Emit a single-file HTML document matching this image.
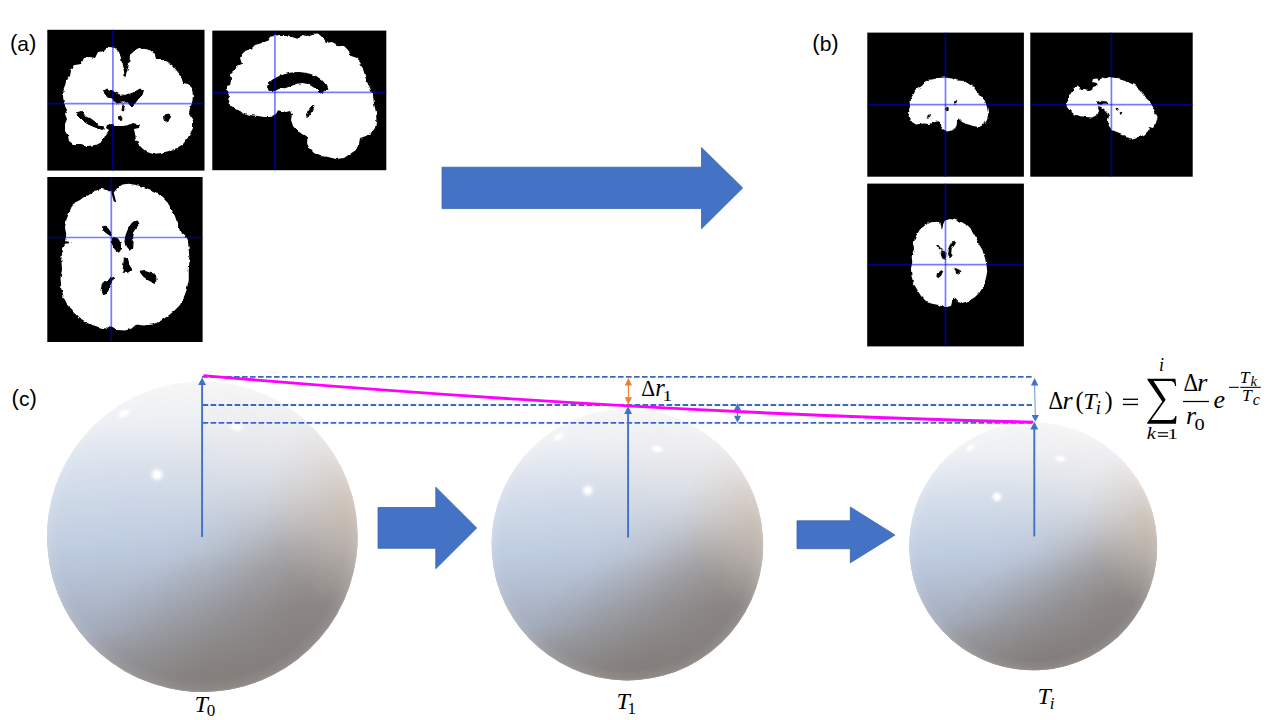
<!DOCTYPE html>
<html>
<head>
<meta charset="utf-8">
<title>Figure</title>
<style>
html,body{margin:0;padding:0;background:#fff;}
body{width:1280px;height:720px;overflow:hidden;position:relative;font-family:"Liberation Sans",sans-serif;}
svg{position:absolute;left:0;top:0;}
.lab{font-family:"Liberation Sans",sans-serif;font-size:21px;fill:#000;}
.m{font-family:"Liberation Serif",serif;fill:#000;}
.mi{font-family:"Liberation Serif",serif;font-style:italic;fill:#000;}
</style>
</head>
<body>
<svg width="1280" height="720" viewBox="0 0 1280 720">
<defs>
  <filter id="rough" x="-5%" y="-5%" width="110%" height="110%">
    <feTurbulence type="fractalNoise" baseFrequency="0.04" numOctaves="2" seed="3" result="n"/>
    <feDisplacementMap in="SourceGraphic" in2="n" scale="16" xChannelSelector="R" yChannelSelector="G" result="d"/>
    <feGaussianBlur in="d" stdDeviation="2.2"/>
  </filter>
  <filter id="rough4" x="-5%" y="-5%" width="110%" height="110%">
    <feTurbulence type="fractalNoise" baseFrequency="0.05" numOctaves="2" seed="5" result="n"/>
    <feDisplacementMap in="SourceGraphic" in2="n" scale="13" xChannelSelector="R" yChannelSelector="G" result="d"/>
    <feGaussianBlur in="d" stdDeviation="1.8"/>
  </filter>
  <!-- sphere gradients -->
  <linearGradient id="gN" x1="0" y1="0" x2="0" y2="1">
    <stop offset="0" stop-color="#f6f6f6"/><stop offset="0.12" stop-color="#f0f0f2"/><stop offset="0.25" stop-color="#e5e6ea"/><stop offset="0.38" stop-color="#d4d8e0"/><stop offset="0.5" stop-color="#bec4d0"/><stop offset="0.62" stop-color="#a5a6ad"/><stop offset="0.75" stop-color="#908c8c"/><stop offset="0.88" stop-color="#85817e"/><stop offset="1" stop-color="#7f7b78"/>
  </linearGradient>
  <linearGradient id="gB" x1="0" y1="0" x2="0" y2="1">
    <stop offset="0" stop-color="#f4f5f8"/><stop offset="0.1" stop-color="#ebeff5"/><stop offset="0.2" stop-color="#dde5ef"/><stop offset="0.3" stop-color="#d2dcea"/><stop offset="0.5" stop-color="#bfcde0"/><stop offset="0.65" stop-color="#b1bccf"/><stop offset="0.78" stop-color="#a5adbd"/><stop offset="0.9" stop-color="#96989f"/><stop offset="1" stop-color="#8a8786"/>
  </linearGradient>
  <linearGradient id="gW" x1="0" y1="0" x2="0" y2="1">
    <stop offset="0" stop-color="#f5f3f1"/><stop offset="0.1" stop-color="#efe9e3"/><stop offset="0.2" stop-color="#e6dcd2"/><stop offset="0.3" stop-color="#dbcfc4"/><stop offset="0.5" stop-color="#c4b7aa"/><stop offset="0.75" stop-color="#b0a69e"/><stop offset="0.9" stop-color="#9a938e"/><stop offset="1" stop-color="#88837f"/>
  </linearGradient>
  <linearGradient id="gD" x1="0" y1="0" x2="0" y2="1">
    <stop offset="0" stop-color="#f5f4f3"/><stop offset="0.12" stop-color="#efebe7"/><stop offset="0.25" stop-color="#e0dad4"/><stop offset="0.4" stop-color="#cbc4be"/><stop offset="0.5" stop-color="#afa7a1"/><stop offset="0.56" stop-color="#a09a96"/><stop offset="0.64" stop-color="#96908c"/><stop offset="0.75" stop-color="#8a8482"/><stop offset="1" stop-color="#7e7a78"/>
  </linearGradient>
  <radialGradient id="aL" gradientUnits="userSpaceOnUse" cx="-80" cy="8" r="150">
    <stop offset="0" stop-color="#fff"/><stop offset="0.35" stop-color="#f0f0f0"/><stop offset="0.55" stop-color="#b4b4b4"/><stop offset="0.75" stop-color="#555"/><stop offset="0.9" stop-color="#1a1a1a"/><stop offset="1" stop-color="#000"/>
  </radialGradient>
  <radialGradient id="aW" gradientUnits="userSpaceOnUse" cx="118" cy="-12" r="75">
    <stop offset="0" stop-color="#fff"/><stop offset="0.3" stop-color="#e0e0e0"/><stop offset="0.6" stop-color="#777"/><stop offset="1" stop-color="#000"/>
  </radialGradient>
  <radialGradient id="aD" gradientUnits="userSpaceOnUse" cx="50" cy="52" r="88">
    <stop offset="0" stop-color="#d8d8d8"/><stop offset="0.35" stop-color="#b8b8b8"/><stop offset="0.65" stop-color="#606060"/><stop offset="1" stop-color="#000"/>
  </radialGradient>
  <mask id="mL" maskUnits="userSpaceOnUse" x="-100" y="-100" width="200" height="200"><rect x="-100" y="-100" width="200" height="200" fill="url(#aL)"/></mask>
  <mask id="mW" maskUnits="userSpaceOnUse" x="-100" y="-100" width="200" height="200"><rect x="-100" y="-100" width="200" height="200" fill="url(#aW)"/></mask>
  <mask id="mD" maskUnits="userSpaceOnUse" x="-100" y="-100" width="200" height="200"><rect x="-100" y="-100" width="200" height="200" fill="url(#aD)"/></mask>
  <radialGradient id="sRim" cx="0.5" cy="0.5" r="0.5">
    <stop offset="0" stop-color="#fff" stop-opacity="0"/>
    <stop offset="0.92" stop-color="#fff" stop-opacity="0"/>
    <stop offset="0.985" stop-color="#fff" stop-opacity="0.08"/>
    <stop offset="1" stop-color="#fff" stop-opacity="0.16"/>
  </radialGradient>
  <g id="shade">
    <circle cx="0" cy="0" r="100" fill="url(#gN)"/>
    <circle cx="0" cy="0" r="100" fill="url(#gD)" mask="url(#mD)"/>
    <circle cx="0" cy="0" r="100" fill="url(#gB)" mask="url(#mL)"/>
    <circle cx="0" cy="0" r="100" fill="url(#gW)" mask="url(#mW)"/>
  </g>
  <radialGradient id="gHL" cx="0.5" cy="0.5" r="0.5">
    <stop offset="0" stop-color="#fff" stop-opacity="1"/>
    <stop offset="0.32" stop-color="#fff" stop-opacity="0.98"/>
    <stop offset="0.55" stop-color="#fff" stop-opacity="0.5"/>
    <stop offset="0.8" stop-color="#fff" stop-opacity="0.14"/>
    <stop offset="1" stop-color="#fff" stop-opacity="0"/>
  </radialGradient>
  <radialGradient id="gBot" cx="0.56" cy="1.02" r="0.48">
    <stop offset="0" stop-color="#837d79" stop-opacity="0.8"/>
    <stop offset="0.45" stop-color="#88827e" stop-opacity="0.4"/>
    <stop offset="1" stop-color="#8a8684" stop-opacity="0"/>
  </radialGradient>
  <g id="hls">
    <circle cx="0" cy="0" r="100" fill="url(#gBot)"/>
    <circle cx="0" cy="0" r="100" fill="url(#sRim)"/>
    <circle cx="-29.2" cy="-39.9" r="5.8" fill="url(#gHL)"/>
    <ellipse cx="-50.5" cy="-79.3" rx="6.4" ry="3.6" fill="url(#gHL)" transform="rotate(-30 -50.5 -79.3)"/>
    <ellipse cx="22" cy="-70.5" rx="6.4" ry="4" fill="url(#gHL)" transform="rotate(8 22 -70.5)"/>
  </g>
</defs>

<!-- ===== panel (a) ===== -->
<g id="a1">
  <rect x="47.3" y="29.8" width="157.2" height="140.8" fill="#000"/>
  <g transform="translate(45,28) scale(0.2)" filter="url(#rough)">
    <path fill="#fff" d="M325,95 L350,100 L370,120 L380,150 L385,190 L395,220 L400,250 L410,215 L420,180 L425,140 L440,115 L470,100 L500,105 L530,115 L550,130 L555,155 L585,155 L615,170 L640,190 L660,215 L680,240 L690,275 L715,280 L735,300 L740,340 L735,375 L725,400 L720,430 L740,465 L740,500 L725,530 L710,555 L690,580 L660,600 L620,615 L580,625 L540,630 L510,620 L490,605 L470,585 L455,560 L450,530 L445,505 L470,500 L475,485 L440,475 L420,485 L390,490 L360,490 L335,480 L310,485 L305,500 L320,510 L300,540 L285,570 L255,585 L215,590 L180,580 L140,580 L120,565 L115,540 L100,515 L100,480 L110,455 L100,430 L110,410 L95,380 L90,340 L95,300 L110,260 L125,240 L130,215 L150,185 L180,180 L195,150 L225,145 L250,150 L265,120 L295,115 L310,100 Z"/>
    <path fill="#000" stroke="#000" stroke-width="5" stroke-linejoin="round" d="M160,425 L185,418 L200,440 L230,455 L250,470 L265,490 L290,495 L300,510 L280,505 L250,495 L215,480 L185,460 L165,440 Z
    M295,315 L310,305 L340,318 L375,335 L405,337 L440,325 L475,305 L492,312 L485,335 L465,355 L450,375 L435,395 L425,385 L415,370 L385,370 L360,375 L340,360 L320,345 L300,330 Z
    M388,385 L397,385 L392,415 L385,412 Z
    M365,445 L385,440 L383,462 L362,460 Z
    M600,435 L618,430 L628,445 L620,455 L615,468 L602,462 L598,450 Z"/>
  </g>
  <line x1="112.9" y1="29.8" x2="112.9" y2="170.6" stroke="#0000ff" stroke-opacity="0.52" stroke-width="1.7"/>
  <line x1="47.3" y1="103.7" x2="204.5" y2="103.7" stroke="#0000ff" stroke-opacity="0.52" stroke-width="1.7"/>
</g>

<g id="a2">
  <rect x="212.3" y="30.6" width="174" height="139.6" fill="#000"/>
  <g transform="translate(210,28) scale(0.2)" filter="url(#rough)">
    <path fill="#fff" d="M345,35 L380,35 L410,45 L440,55 L460,35 L490,40 L510,30 L540,28 L560,45 L580,75 L610,70 L640,85 L670,90 L690,110 L705,140 L735,150 L755,180 L770,220 L780,260 L800,300 L815,340 L820,380 L830,420 L832,460 L825,500 L810,520 L780,540 L750,550 L745,580 L730,610 L700,630 L670,650 L630,655 L590,645 L550,640 L520,625 L495,600 L485,570 L490,545 L465,530 L435,515 L415,490 L405,460 L410,435 L400,415 L380,420 L355,415 L340,410 L330,430 L300,445 L270,445 L240,440 L200,435 L170,425 L140,410 L115,395 L95,385 L90,360 L100,335 L85,310 L85,290 L100,285 L110,255 L105,230 L125,210 L135,190 L160,180 L150,150 L170,120 L200,110 L225,85 L260,75 L285,65 L300,45 L325,40 Z"/>
    <path fill="#000" stroke="#000" stroke-width="5" stroke-linejoin="round" d="M290,280 L310,262 L350,240 L400,226 L440,222 L490,228 L530,242 L560,262 L578,285 L585,305 L570,318 L550,325 L535,310 L520,295 L490,278 L460,272 L430,278 L400,290 L370,300 L340,302 L320,312 L300,312 L288,298 Z
    M505,395 L520,393 L510,415 L495,435 L485,448 L482,435 L492,412 Z"/>
  </g>
  <line x1="274.9" y1="30.6" x2="274.9" y2="170.2" stroke="#0000ff" stroke-opacity="0.52" stroke-width="1.7"/>
  <line x1="212.3" y1="92.4" x2="386.3" y2="92.4" stroke="#0000ff" stroke-opacity="0.52" stroke-width="1.7"/>
</g>

<g id="a3">
  <rect x="47.3" y="177" width="155.3" height="165" fill="#000"/>
  <g transform="translate(45,170) scale(0.25)" filter="url(#rough4)">
    <path fill="#fff" d="M265,85 L255,85 L230,75 L205,80 L185,95 L160,105 L140,120 L120,130 L105,150 L95,175 L85,200 L80,230 L85,260 L80,285 L110,290 L80,295 L70,320 L65,360 L68,400 L62,430 L65,470 L75,510 L90,540 L110,565 L135,590 L160,605 L190,620 L220,630 L250,635 L265,625 L290,640 L320,642 L345,635 L365,618 L395,622 L430,618 L460,605 L490,585 L515,565 L540,540 L555,510 L568,475 L575,440 L575,400 L578,360 L575,320 L572,280 L560,260 L540,245 L530,215 L520,185 L505,155 L490,130 L470,110 L445,90 L420,78 L395,68 L365,60 L335,55 L310,58 L290,72 L275,90 L280,110 L285,130 L275,125 L268,100 Z"/>
    <path fill="#000" stroke="#000" stroke-width="5" stroke-linejoin="round" d="M230,228 L240,225 L255,240 L265,255 L262,262 L245,250 L232,238 Z
    M355,208 L370,205 L375,215 L362,232 L350,250 L345,270 L352,290 L350,310 L338,320 L325,305 L320,285 L325,260 L335,235 L345,218 Z
    M270,270 L290,275 L300,290 L303,315 L295,328 L280,315 L270,295 Z
    M318,352 L328,355 L335,380 L348,400 L335,408 L312,408 L315,380 Z
    M380,405 L400,402 L425,410 L445,425 L448,440 L435,450 L415,440 L395,425 Z
    M275,430 L265,450 L255,475 L245,495 L232,498 L225,480 L230,460 L245,445 L260,435 Z"/>
  </g>
  <line x1="111.3" y1="177" x2="111.3" y2="342" stroke="#0000ff" stroke-opacity="0.52" stroke-width="1.7"/>
  <line x1="47.3" y1="237.5" x2="202.6" y2="237.5" stroke="#0000ff" stroke-opacity="0.52" stroke-width="1.7"/>
</g>

<!-- ===== panel (b) ===== -->
<g id="b1">
  <rect x="867.3" y="32.6" width="156.6" height="144.1" fill="#000"/>
  <g transform="translate(866,32) scale(0.2)" filter="url(#rough)">
    <path fill="#fff" d="M300,240 L330,238 L360,230 L395,228 L430,232 L460,242 L490,245 L515,260 L540,278 L555,300 L575,320 L595,345 L605,375 L612,405 L605,440 L590,462 L565,475 L535,470 L505,460 L480,450 L465,435 L455,450 L450,475 L430,492 L405,497 L385,485 L370,465 L365,445 L345,450 L320,460 L285,458 L250,462 L230,450 L215,425 L210,400 L220,375 L218,345 L235,315 L250,290 L270,275 L290,265 Z"/>
    <path fill="#000" stroke="#000" stroke-width="2" stroke-linejoin="round" d="M440,348 L455,345 L450,355 L438,358 Z
    M402,375 L412,378 L412,398 L402,395 Z
    M310,415 L325,412 L318,425 L305,428 Z"/>
  </g>
  <line x1="945.5" y1="32.6" x2="945.5" y2="176.7" stroke="#0000ff" stroke-opacity="0.52" stroke-width="1.7"/>
  <line x1="867.3" y1="104.6" x2="1023.9" y2="104.6" stroke="#0000ff" stroke-opacity="0.52" stroke-width="1.7"/>
</g>

<g id="b2">
  <rect x="1030.3" y="32.6" width="162.4" height="144.1" fill="#000"/>
  <g transform="translate(1028,32) scale(0.2)" filter="url(#rough)">
    <path fill="#fff" d="M405,225 L440,230 L470,240 L500,250 L530,265 L555,285 L575,305 L590,330 L610,350 L625,375 L635,400 L648,425 L640,455 L625,480 L605,475 L600,495 L580,515 L550,525 L515,533 L490,525 L470,510 L445,500 L420,490 L405,470 L400,445 L405,420 L395,400 L380,385 L365,375 L350,370 L355,395 L345,415 L320,428 L290,425 L260,420 L230,410 L210,395 L195,375 L190,355 L205,340 L205,315 L225,300 L230,275 L250,268 L265,290 L290,280 L300,295 L320,290 L325,275 L340,270 L345,255 L320,250 L325,235 L345,232 L360,245 L370,228 L390,232 Z"/>
    <path fill="#000" stroke="#000" stroke-width="2" stroke-linejoin="round" d="M342,350 L360,345 L385,348 L400,355 L395,362 L370,362 L350,360 Z
    M440,380 L452,385 L450,392 L440,388 Z
    M460,395 L470,400 L468,410 L460,405 Z"/>
  </g>
  <line x1="1111.4" y1="32.6" x2="1111.4" y2="176.7" stroke="#0000ff" stroke-opacity="0.52" stroke-width="1.7"/>
  <line x1="1030.3" y1="104.6" x2="1192.7" y2="104.6" stroke="#0000ff" stroke-opacity="0.52" stroke-width="1.7"/>
</g>

<g id="b3">
  <rect x="867.2" y="183.6" width="156.7" height="162.8" fill="#000"/>
  <g transform="translate(866,176) scale(0.25)" filter="url(#rough4)">
    <path fill="#fff" d="M330,172 L355,175 L380,185 L405,200 L425,220 L440,245 L450,270 L465,295 L475,325 L482,355 L485,385 L478,415 L470,440 L455,465 L435,485 L410,500 L385,508 L365,500 L352,485 L345,500 L340,520 L320,525 L300,520 L285,515 L260,510 L240,500 L220,480 L205,455 L190,430 L182,400 L180,370 L185,345 L183,320 L192,295 L190,265 L200,240 L215,215 L235,198 L260,185 L285,183 L300,195 L303,215 L308,195 L315,178 Z"/>
    <path fill="#000" stroke="#000" stroke-width="2" stroke-linejoin="round" d="M345,262 L355,260 L352,275 L342,290 L340,305 L345,320 L335,328 L325,315 L328,295 L335,278 Z
    M302,298 L315,302 L320,320 L315,335 L305,328 L300,312 Z
    M282,278 L288,276 L300,290 L296,294 Z
    M300,378 L308,380 L300,398 L288,408 L282,400 L290,388 Z
    M352,368 L365,372 L380,380 L378,390 L362,385 Z"/>
  </g>
  <line x1="945.5" y1="183.6" x2="945.5" y2="346.4" stroke="#0000ff" stroke-opacity="0.52" stroke-width="1.7"/>
  <line x1="867.2" y1="264.7" x2="1023.9" y2="264.7" stroke="#0000ff" stroke-opacity="0.52" stroke-width="1.7"/>
</g>

<!-- big arrow -->
<polygon points="442,167.2 701.5,167.2 701.5,147.5 742.7,187.9 701.5,228.8 701.5,208.6 442,208.6" fill="#4472c4" stroke="#3a63ad" stroke-width="0.8"/>

<!-- ===== panel (c) ===== -->
<g transform="translate(202.35,536.6) scale(1.553)"><use href="#shade" transform="rotate(-4)"/><use href="#hls"/></g>
<g transform="translate(627.4,544.6) scale(1.358)"><use href="#shade" transform="rotate(-4)"/><use href="#hls"/></g>
<g transform="translate(1033.2,546.3) scale(1.24)"><use href="#shade" transform="rotate(-4)"/><use href="#hls"/></g>

<!-- small block arrows -->
<polygon points="378,507.5 435.8,507.5 435.8,487.2 476.7,528 435.8,568.7 435.8,548.3 378,548.3" fill="#4472c4" stroke="#3a63ad" stroke-width="0.8"/>
<polygon points="797,520.8 850.3,520.8 850.3,507 895,535 850.3,562.8 850.3,548.7 797,548.7" fill="#4472c4" stroke="#3a63ad" stroke-width="0.8"/>

<!-- dashed guide lines -->
<g stroke="#3a67bf" stroke-width="1.9" stroke-dasharray="5.6 2.4" fill="none">
  <line x1="202" y1="376.9" x2="1032" y2="376.9"/>
  <line x1="202.6" y1="405" x2="1032" y2="405"/>
  <line x1="202.6" y1="422.9" x2="1032" y2="422.9"/>
</g>

<!-- radius arrows -->
<g stroke="#4170c4" stroke-width="1.9" fill="#4170c4">
  <line x1="202.1" y1="537" x2="202.1" y2="384"/>
  <polygon points="202.1,377.4 198.2,385 206,385" stroke="none"/>
  <line x1="628.1" y1="537.5" x2="628.1" y2="413"/>
  <polygon points="628.1,406.3 624.2,414 632,414" stroke="none"/>
  <line x1="1034.3" y1="536.5" x2="1034.3" y2="428"/>
  <polygon points="1034.3,421.8 1030.4,429.5 1038.2,429.5" stroke="none"/>
</g>

<!-- blue small double arrow -->
<g stroke="#4472c4" fill="#4472c4" stroke-width="1.1">
  <line x1="737.5" y1="410" x2="737.5" y2="417"/>
  <polygon points="737.5,403.2 733.9,410.2 741.1,410.2" stroke="none"/>
  <polygon points="737.5,422.8 733.9,415.8 741.1,415.8" stroke="none"/>
</g>
<!-- magenta decay curve -->
<path d="M203.4,375.6 Q640,413 1033.4,422.1" fill="none" stroke="#ff00ff" stroke-width="2.9" stroke-linecap="butt"/>

<!-- orange double arrow -->
<g stroke="#ed7d31" fill="#ed7d31" stroke-width="1.1">
  <line x1="628.4" y1="384" x2="628.4" y2="399"/>
  <polygon points="628.4,378 624.8,385.4 632,385.4" stroke="none"/>
  <polygon points="628.4,404.7 624.8,397.3 632,397.3" stroke="none"/>
</g>
<!-- right thin double arrow -->
<g stroke="#5a84cf" fill="#4472c4" stroke-width="0.9">
  <line x1="1034.6" y1="384" x2="1035.3" y2="416"/>
  <polygon points="1034.6,378 1031,385.4 1038.3,385.4" stroke="none"/>
  <polygon points="1035.3,421.8 1031.6,415 1039,415" stroke="none"/>
</g>

<!-- labels -->
<g class="lab">
<text x="10" y="50"><tspan font-size="22.1">(</tspan><tspan font-size="21" dy="0.6">a</tspan><tspan font-size="22.1" dy="-0.6">)</tspan></text>
<text x="812.3" y="50"><tspan font-size="22.1">(</tspan><tspan font-size="21" dy="0.6">b</tspan><tspan font-size="22.1" dy="-0.6">)</tspan></text>
<text x="11.6" y="405"><tspan font-size="22.1">(</tspan><tspan font-size="21" dy="0.6">c</tspan><tspan font-size="22.1" dy="-0.6">)</tspan></text>
</g>

<text class="mi" font-size="24" x="194.5" y="712">T</text><text class="m" font-size="17" x="206.7" y="716.4">0</text>
<text class="mi" font-size="24" x="616.5" y="708.9">T</text><text class="m" font-size="17" x="627.6" y="713.8">1</text>
<text class="mi" font-size="24" x="1037.4" y="703.8">T</text><text class="mi" font-size="17" x="1049.8" y="709">i</text>

<!-- delta r1 -->
<text class="m" font-size="23.2" transform="translate(641.3,395.6) scale(0.93,1)">Δ</text><text class="mi" font-size="24.5" x="655.2" y="395.6">r</text><text class="m" font-size="15.5" transform="translate(662.6,400.7) scale(1.25,1)">1</text>

<!-- formula -->
<g id="formula">
  <text class="m" font-size="24.7" transform="translate(1048.4,408.5) scale(0.92,1)">Δ</text>
  <text class="mi" font-size="26" x="1062.6" y="408.5">r</text>
  <text class="m" font-size="24.5" x="1075.6" y="408.9">(</text>
  <text class="mi" font-size="24" x="1083.3" y="408.5">T</text>
  <text class="mi" font-size="18.5" x="1095.7" y="413.5">i</text>
  <text class="m" font-size="24.5" x="1104.5" y="408.9">)</text>
  <rect x="1122.9" y="398.6" width="15.1" height="1.35" fill="#000"/>
  <rect x="1122.9" y="403.8" width="15.1" height="1.35" fill="#000"/>
  <!-- sigma -->
  <path fill="#000" d="M1147.4,378.7 L1175.4,378.7 L1176.2,386 L1175.1,386 C1174.6,382.4 1173.2,381 1169.6,381 L1153.6,381 L1165.7,399.8 L1151.2,419.9 L1170.4,419.9 C1173.8,419.9 1175,418.4 1175.4,416 L1176.5,416 L1176,423.8 L1147.2,423.8 L1147.2,422.8 L1162.3,401.6 L1147.4,379.8 Z"/>
  <text class="mi" font-size="18" x="1159" y="371">i</text>
  <text class="mi" font-size="17" transform="translate(1146.8,439) scale(1.2,1)">k</text>
  <rect x="1157.8" y="432.2" width="10.3" height="1.15" fill="#000"/>
  <rect x="1157.8" y="435.7" width="10.3" height="1.15" fill="#000"/>
  <text class="m" font-size="15.5" transform="translate(1167.6,439) scale(1.35,1)">1</text>
  <text class="m" font-size="24.7" transform="translate(1183.4,390.5) scale(0.92,1)">Δ</text>
  <text class="mi" font-size="26" x="1197.2" y="390.5">r</text>
  <rect x="1183" y="400.9" width="26" height="1.2" fill="#000"/>
  <text class="mi" font-size="26" x="1185.9" y="424.3">r</text>
  <text class="m" font-size="17" transform="translate(1194.4,429.6) scale(1.2,1)">0</text>
  <text class="mi" font-size="26" x="1213.4" y="408.3">e</text>
  <rect x="1229" y="386.8" width="9.8" height="1.05" fill="#000"/>
  <rect x="1240.2" y="386.8" width="20.6" height="1.05" fill="#000"/>
  <text class="mi" font-size="17.6" x="1239.8" y="382.7">T</text><text class="mi" font-size="14.5" x="1250.4" y="386">k</text>
  <text class="mi" font-size="17.6" x="1241.9" y="401.4">T</text><text class="mi" font-size="16" x="1252.7" y="405">c</text>
</g>
</svg>
</body>
</html>
